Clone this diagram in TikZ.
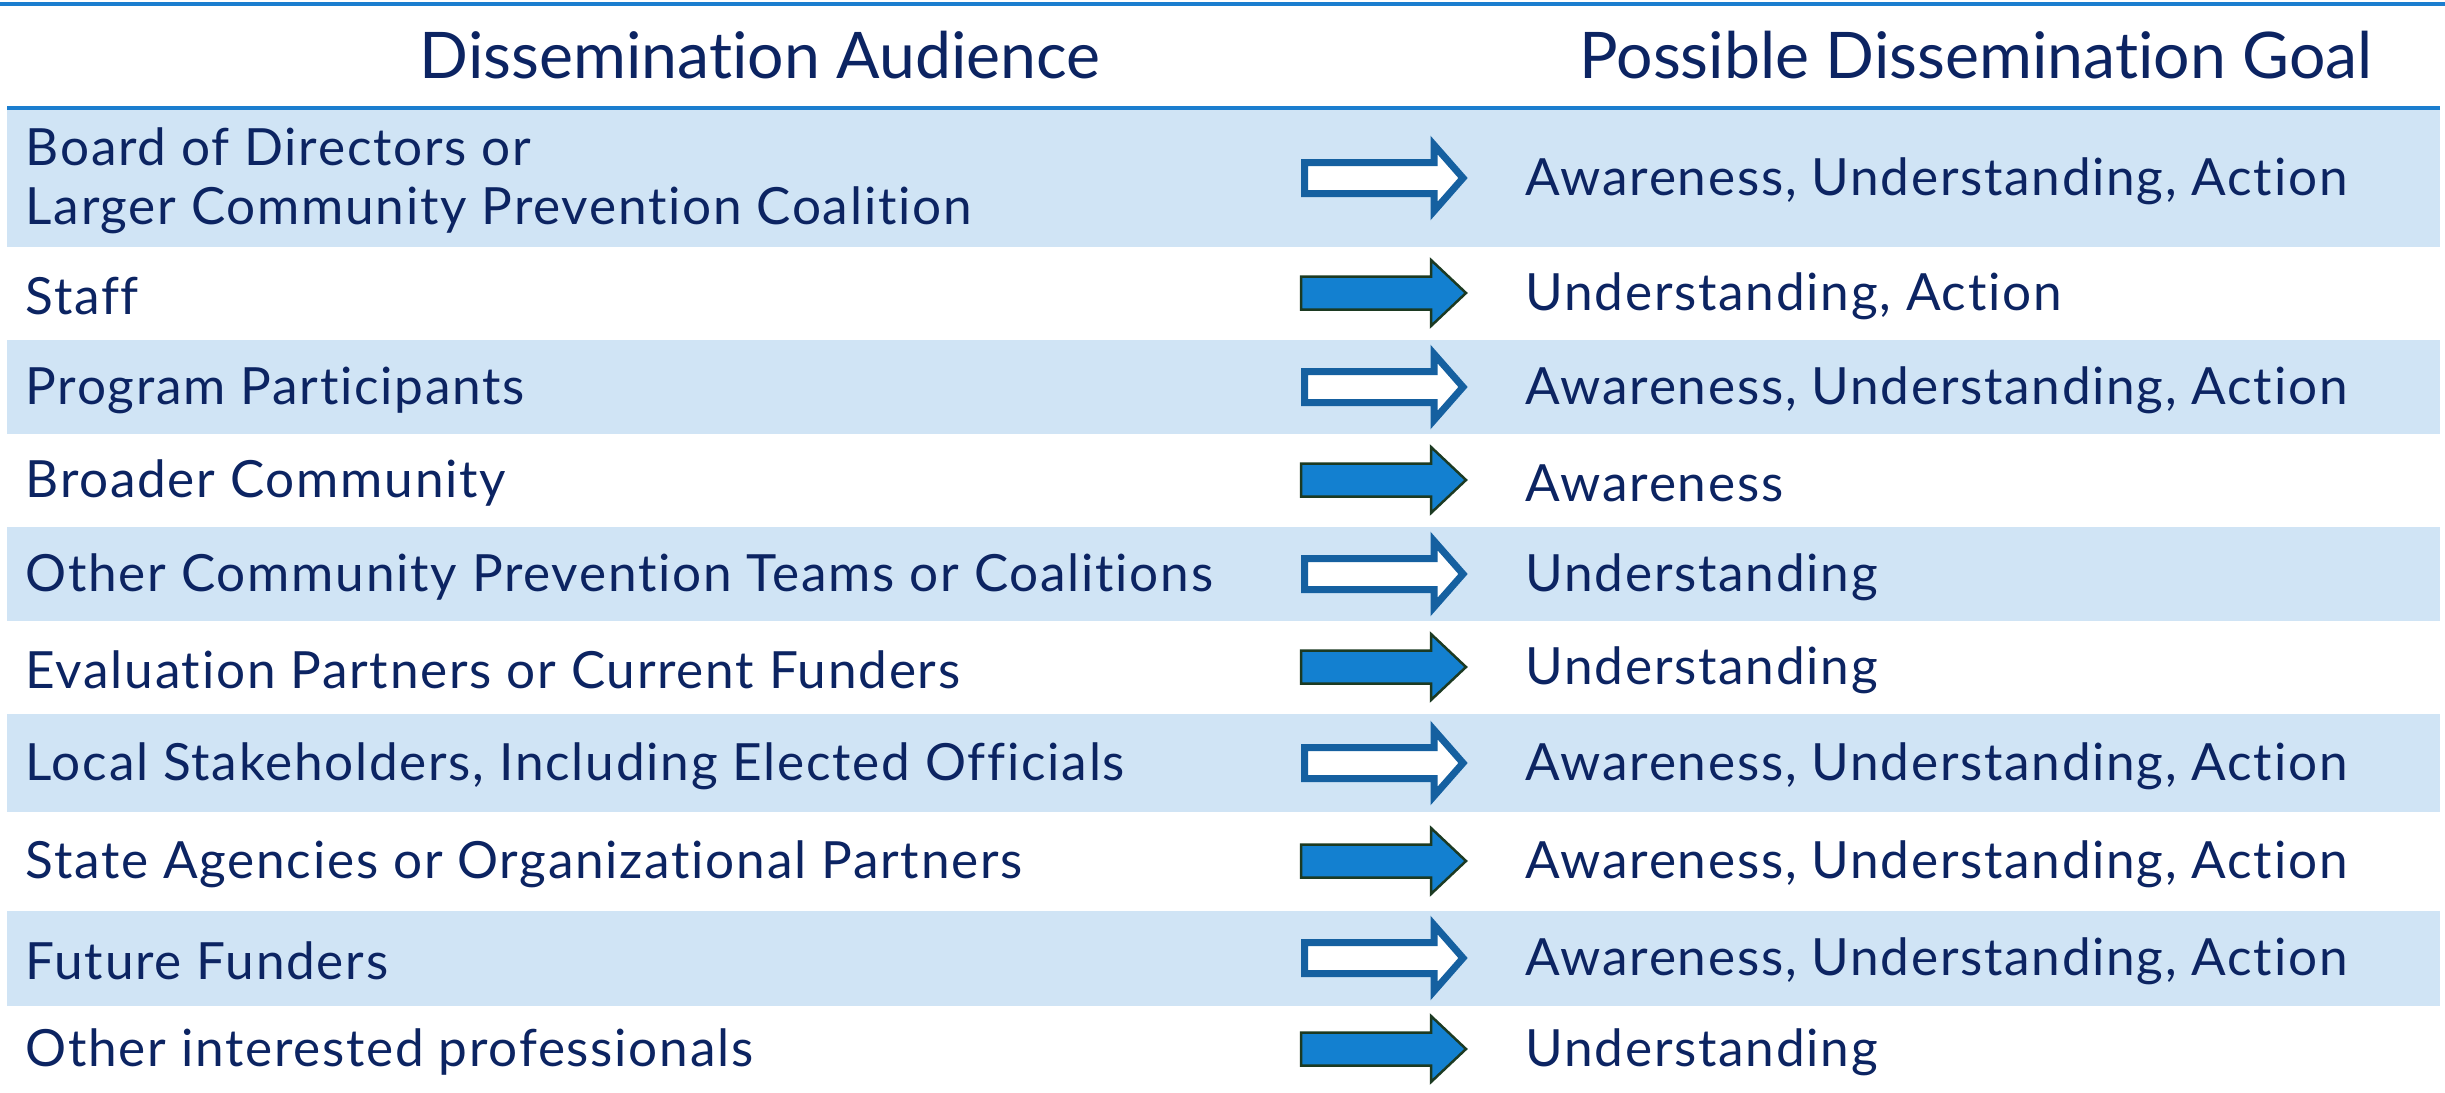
\documentclass[tikz,border=0pt]{standalone}
\usepackage{fontspec}
\setmainfont[Ligatures=NoCommon]{Lato}
\newfontfamily\rowfont[LetterSpace=3.4, Ligatures=NoCommon]{Lato}
\usetikzlibrary{positioning}

\definecolor{navytext}{HTML}{0C2462}
\definecolor{rowblue}{HTML}{D0E4F5}
\definecolor{ruleblue}{HTML}{1B7ECF}
\definecolor{arrowfill}{HTML}{1380D0}
\definecolor{arrowedge}{HTML}{1C3A22}
\definecolor{openedge}{HTML}{1560A0}

\tikzset{
  headtext/.style={text=navytext, font=\fontsize{18.3}{22}\selectfont, inner sep=0pt},
  audience/.style={anchor=west, text=navytext, font=\rowfont\fontsize{14.6}{16.8}\selectfont, inner sep=0pt, align=left, yshift=-0.3mm},
  goal/.style={anchor=west, text=navytext, font=\rowfont\fontsize{14.6}{16.8}\selectfont, inner sep=0pt, yshift=-0.3mm},
  rowband/.style={fill=rowblue, draw=none},
  rule/.style={draw=ruleblue, line width=0.4mm},
  filledarrow/.pic={
    \draw[arrowedge, fill=arrowfill, line width=0.25mm, line join=miter]
      (0,-16.5) -- (130,-16.5) -- (130,-33) -- (165,0) -- (130,33) -- (130,16.5) -- (0,16.5) -- cycle;
  },
  openarrow/.pic={
    \draw[openedge, fill=white, line width=0.7mm, line join=miter]
      (3.5,-15.5) -- (133,-15.5) -- (133,-33) -- (162,0) -- (133,33) -- (133,15.5) -- (3.5,15.5) -- cycle;
  },
}

\begin{document}
\begin{tikzpicture}[x=0.1mm, y=-0.1mm]
\useasboundingbox (0,0) rectangle (2445,1093);

% shaded rows
\foreach \top/\bot in {110/247, 340/434, 527/621, 714/812, 911/1006}
  \fill[rowband] (7,\top) rectangle (2440,\bot);

% rules
\draw[rule] (0,4) -- (2445,4);
\draw[rule] (7,108) -- (2440,108);

% header
\node[headtext] at (760,55) (headaud) {Dissemination Audience};
\node[headtext] at (1976,55) (headgoal) {Possible Dissemination Goal};

% rows
\foreach \i/\y/\aud/\gl/\kind in {
  1/178/{Board of Directors or\\Larger Community Prevention Coalition}/{Awareness, Understanding, Action}/openarrow,
  2/293/{Staff}/{Understanding, Action}/filledarrow,
  3/387/{Program Participants}/{Awareness, Understanding, Action}/openarrow,
  4/480/{Broader Community}/{Awareness}/filledarrow,
  5/574/{Other Community Prevention Teams or Coalitions}/{Understanding}/openarrow,
  6/667/{Evaluation Partners or Current Funders}/{Understanding}/filledarrow,
  7/763/{Local Stakeholders, Including Elected Officials}/{Awareness, Understanding, Action}/openarrow,
  8/861/{State Agencies or Organizational Partners}/{Awareness, Understanding, Action}/filledarrow,
  9/958/{Future Funders}/{Awareness, Understanding, Action}/openarrow,
  10/1049/{Other interested professionals}/{Understanding}/filledarrow}
{
  \node[audience] at (25,\y) (aud\i) {\aud};
  \node[goal] at (1525,\y) (goal\i) {\gl};
  \pic at (1301,\y) {\kind};
}
\end{tikzpicture}
\end{document}
